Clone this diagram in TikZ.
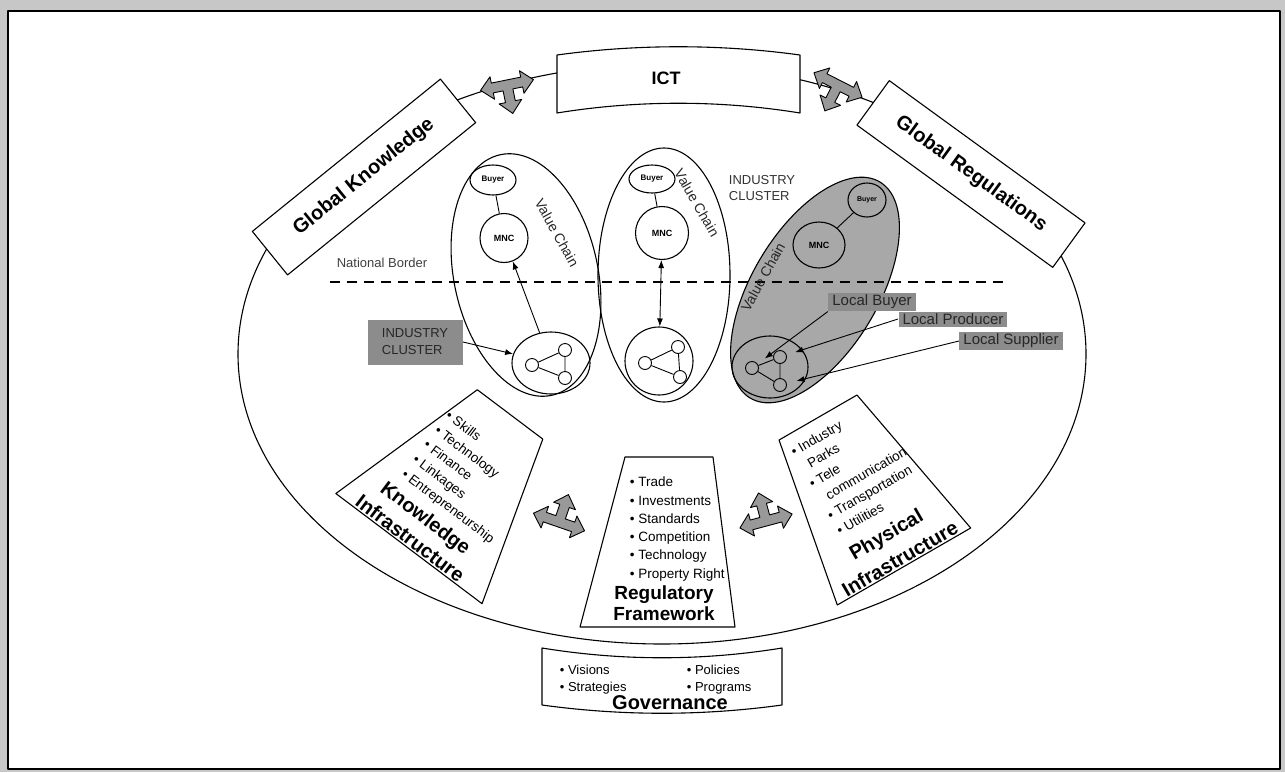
\documentclass[tikz,border=0pt]{standalone}
\usepackage{fontspec}
\setmainfont{Liberation Sans}
\usetikzlibrary{shapes.geometric,arrows.meta}
\definecolor{arrowgray}{gray}{0.6}
\definecolor{clustergray}{gray}{0.66}
\definecolor{labelgray}{gray}{0.55}
\definecolor{framegray}{gray}{0.78}
\newcommand{\fsz}[2]{\fontsize{#1}{#2}\selectfont}
\tikzset{
  tarrow/.pic={
    \draw[fill=arrowgray, line width=0.9pt, line join=round]
      (-27pt,0pt) -- (-15pt,11.5pt) -- (-15pt,5pt) -- (-5pt,5pt) -- (-5pt,17pt)
      -- (-11.5pt,17pt) -- (0pt,29pt) -- (11.5pt,17pt) -- (5pt,17pt) -- (5pt,5pt)
      -- (15pt,5pt) -- (15pt,11.5pt) -- (27pt,0pt) -- (15pt,-11.5pt) -- (15pt,-5pt)
      -- (-15pt,-5pt) -- (-15pt,-11.5pt) -- cycle;
  },
  gbox/.style={draw, fill=white, inner sep=0pt, font=\bfseries\fsz{20}{24}},
  vchain/.style={draw, ellipse, inner sep=0pt},
  buyer/.style={draw, ellipse, fill=white, inner sep=0pt, font=\bfseries\fsz{8}{9}},
  mnc/.style={draw, ellipse, fill=white, inner sep=0pt, font=\bfseries\fsz{9}{10}},
  clus/.style={draw, ellipse, inner sep=0pt},
  sdot/.style={draw, circle, minimum size=13pt, inner sep=0pt, line width=0.9pt},
  vclabel/.style={font=\fsz{14}{16}, text=black!85},
  glabel/.style={fill=labelgray, inner xsep=4pt, inner ysep=2pt, font=\fsz{15}{17}, text=black!85},
  arr/.style={-{Latex[length=8pt,width=6pt]}, line width=0.9pt},
  darr/.style={{Latex[length=8pt,width=6pt]}-{Latex[length=8pt,width=6pt]}, line width=0.9pt},
  borderline/.style={line width=2.2pt, dash pattern=on 10pt off 7pt},
  bultext/.style={font=\fsz{13.5}{18.3}, align=left},
}
\begin{document}
\begin{tikzpicture}[x=1pt, y=-1pt, line width=1.1pt, line join=round]
\useasboundingbox (0,0) rectangle (1285,772);
% frame
\fill[framegray] (0,0) rectangle (1285,772);
\draw[line width=2.5pt, fill=white] (8,11) rectangle (1280,769);

% world ellipse
\node[draw, ellipse, inner sep=0pt, minimum width=848pt, minimum height=580pt] (world) at (662,354) {};

% ICT banner
\draw[fill=white] (557,55) .. controls (637,44) and (720,44) .. (800,55) -- (800,113)
   .. controls (720,100) and (637,100) .. (557,113) -- cycle;
\node[font=\bfseries\fsz{18}{20}] (ict) at (666,78) {ICT};

% global boxes
\node[gbox, rotate=39, minimum width=242pt, minimum height=56pt] (gk) at (364,177) {Global Knowledge};
\node[gbox, rotate=-36, minimum width=242pt, minimum height=55pt] (gr) at (971,174) {Global Regulations};

% three-way arrows
\pic[rotate=191.5] at (507,85) {tarrow};
\pic[rotate=153] at (838,85) {tarrow};
\pic[rotate=-19] at (559,522) {tarrow};
\pic[rotate=15] at (766,521) {tarrow};

% value chain ellipses
\node[vchain, minimum width=144pt, minimum height=246pt, rotate=12] (vcL) at (526,275) {};
\node[vchain, minimum width=132pt, minimum height=254pt] (vcM) at (664,275) {};
\node[vchain, fill=clustergray, minimum width=252pt, minimum height=126pt, rotate=59] (vcR) at (815,290) {};

% national border
\node[font=\fsz{13}{15}, text=black!75] (nb) at (382,263) {National Border};
\coordinate (bl) at (330,282);
\coordinate (br) at (1010,282);
\draw[borderline] (bl) -- (br);

% left chain
\node[buyer, minimum width=46pt, minimum height=30pt] (byL) at (493,180) {Buyer};
\node[mnc, minimum width=48pt, minimum height=49pt] (mncL) at (504,238) {MNC};
\node[clus, minimum width=78pt, minimum height=62pt] (clL) at (551,363) {};
\node[sdot] (l1) at (532,365) {};
\node[sdot] (l2) at (565,350) {};
\node[sdot] (l3) at (565,378) {};
\draw[line width=0.9pt] (l1) -- (l2) (l1) -- (l3) (l2) -- (l3);
\draw[line width=0.9pt] (byL) -- (mncL);
\draw[arr] (clL) -- (mncL);
\node[vclabel, rotate=-61] (vctL) at (557,233) {Value Chain};

% middle chain
\node[buyer, minimum width=46pt, minimum height=28pt] (byM) at (652,179) {Buyer};
\node[mnc, minimum width=53pt, minimum height=53pt] (mncM) at (662,233) {MNC};
\node[clus, minimum width=68pt, minimum height=68pt] (clM) at (659,361) {};
\node[sdot] (m1) at (645,363) {};
\node[sdot] (m2) at (678,347) {};
\node[sdot] (m3) at (680,377) {};
\draw[line width=0.9pt] (m1) -- (m2) (m1) -- (m3) (m2) -- (m3);
\draw[line width=0.9pt] (byM) -- (mncM);
\draw[darr] (mncM) -- (clM);
\node[vclabel, rotate=-60] (vctM) at (697,203) {Value Chain};
\node[anchor=north west, align=left, font=\fsz{13}{16}, text=black!80] (ictext) at (725,172) {INDUSTRY\\CLUSTER};

% right chain (gray)
\node[buyer, fill=clustergray, minimum width=38pt, minimum height=34pt, font=\bfseries\fsz{7}{8}] (byR) at (867,200) {Buyer};
\node[mnc, fill=clustergray, minimum width=52pt, minimum height=46pt] (mncR) at (819,245) {MNC};
\node[clus, minimum width=76pt, minimum height=62pt] (clR) at (770,367) {};
\node[sdot] (r1) at (752,368) {};
\node[sdot] (r2) at (780,357) {};
\node[sdot] (r3) at (780,385) {};
\draw[line width=0.9pt] (r1) -- (r2) (r1) -- (r3) (r2) -- (r3);
\draw[line width=0.9pt] (mncR) -- (byR);
\node[vclabel, rotate=61] (vctR) at (763,277) {Value Chain};

% local labels
\node[glabel] (lbuy) at (872,302) {Local Buyer};
\node[glabel] (lprod) at (953,319) {Local Producer};
\node[glabel] (lsup) at (1011,341) {Local Supplier};
\draw[arr, shorten >=9pt] (lbuy.south west) -- (r1);
\draw[arr, shorten >=9pt] (lprod.west) -- (r2);
\draw[arr, shorten >=10pt] (lsup.west) -- (r3);

% left industry cluster label
\node[glabel, font=\fsz{13}{17}, align=left, minimum width=95pt, minimum height=45pt] (icbox) at (415,342) {INDUSTRY\\CLUSTER};
\draw[arr] (icbox.east) -- (clL);

% knowledge infrastructure
\begin{scope}[shift={(459.5,481.5)}, rotate=-37, transform shape]
\draw[fill=white] (-41pt,84pt) -- (41pt,84pt) -- (91.5pt,-84pt) -- (-91.5pt,-84pt) -- cycle;
\node[bultext, anchor=west] (kbul) at (-54pt,9pt) {• Skills\\• Technology\\• Finance\\• Linkages\\• Entrepreneurship};
\node[align=center, font=\bfseries\fsz{20}{26}] (ktitle) at (-5pt,-62pt) {Knowledge\\Infrastructure};
\end{scope}

% regulatory framework
\draw[fill=white] (625,457) -- (713,457) -- (735,627) -- (580,627) -- cycle;
\node[bultext, anchor=west] (rbul) at (626,529) {• Trade\\• Investments\\• Standards\\• Competition\\• Technology\\• Property Right};
\node[align=center, font=\bfseries\fsz{19}{21}] (rtitle) at (664,603) {Regulatory\\Framework};

% physical infrastructure
\begin{scope}[shift={(861,492)}, rotate=30, transform shape]
\draw[fill=white] (-45pt,86pt) -- (45pt,86pt) -- (77pt,-86pt) -- (-77pt,-86pt) -- cycle;
\node[bultext, anchor=west] (pbul) at (-44pt,23pt) {• Industry\\\phantom{• }Parks\\• Tele\\\phantom{• }communication\\• Transportation\\• Utilities};
\node[align=center, font=\bfseries\fsz{20}{28}] (ptitle) at (0.5pt,-63pt) {Physical\\Infrastructure};
\end{scope}

% governance
\draw[fill=white] (542,648) .. controls (622,661) and (702,661) .. (782,648) -- (782,705)
   .. controls (702,716) and (622,716) .. (542,705) -- cycle;
\node[font=\fsz{13}{15}, anchor=west] (gv) at (556,670) {• Visions};
\node[font=\fsz{13}{15}, anchor=west] (gs) at (556,688) {• Strategies};
\node[font=\fsz{13}{15}, anchor=west] (gp) at (683,670) {• Policies};
\node[font=\fsz{13}{15}, anchor=west] (gpr) at (683,688) {• Programs};
\node[font=\bfseries\fsz{20}{22}] (gov) at (670,703) {Governance};
\end{tikzpicture}
\end{document}
